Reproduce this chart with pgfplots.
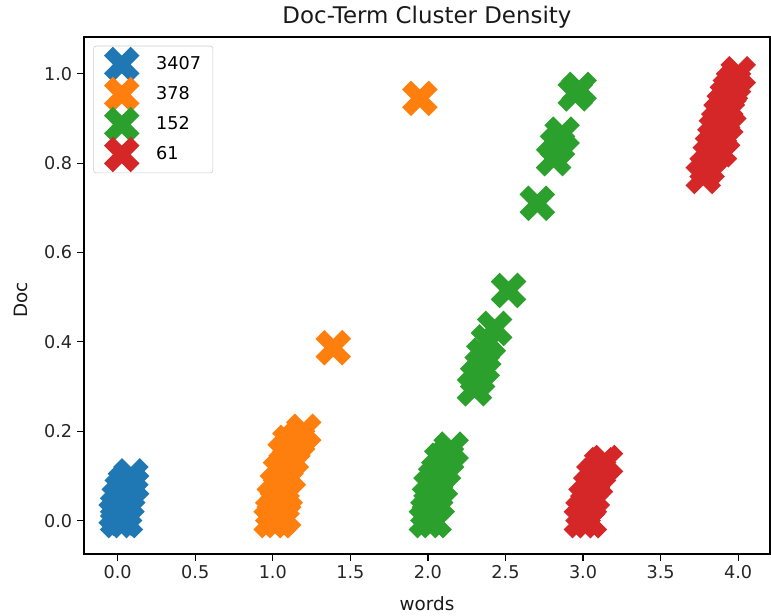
\documentclass[border=0pt]{standalone}
\usepackage{fontspec}
\setmainfont{DejaVu Sans}
\usepackage{pgfplots}
\pgfplotsset{compat=1.18}
\definecolor{tabblue}{HTML}{1F77B4}
\definecolor{taborange}{HTML}{FF7F0E}
\definecolor{tabgreen}{HTML}{2CA02C}
\definecolor{tabred}{HTML}{D62728}
\pgfdeclareplotmark{Xf}{%
  \pgfpathmoveto{\pgfqpoint{-0.5\pgfplotmarksize}{-\pgfplotmarksize}}%
  \pgfpathlineto{\pgfqpoint{0pt}{-0.5\pgfplotmarksize}}%
  \pgfpathlineto{\pgfqpoint{0.5\pgfplotmarksize}{-\pgfplotmarksize}}%
  \pgfpathlineto{\pgfqpoint{\pgfplotmarksize}{-0.5\pgfplotmarksize}}%
  \pgfpathlineto{\pgfqpoint{0.5\pgfplotmarksize}{0pt}}%
  \pgfpathlineto{\pgfqpoint{\pgfplotmarksize}{0.5\pgfplotmarksize}}%
  \pgfpathlineto{\pgfqpoint{0.5\pgfplotmarksize}{\pgfplotmarksize}}%
  \pgfpathlineto{\pgfqpoint{0pt}{0.5\pgfplotmarksize}}%
  \pgfpathlineto{\pgfqpoint{-0.5\pgfplotmarksize}{\pgfplotmarksize}}%
  \pgfpathlineto{\pgfqpoint{-\pgfplotmarksize}{0.5\pgfplotmarksize}}%
  \pgfpathlineto{\pgfqpoint{-0.5\pgfplotmarksize}{0pt}}%
  \pgfpathlineto{\pgfqpoint{-\pgfplotmarksize}{-0.5\pgfplotmarksize}}%
  \pgfpathclose
  \pgfusepathqfill
}
\begin{document}
\begin{tikzpicture}
\useasboundingbox (-60.48pt,-44.64pt) rectangle (494.64pt,398.88pt);
\begin{axis}[
  at={(0,0)}, anchor=south west,
  scale only axis,
  width=493.9pt, height=372.24pt,
  xmin=-0.217, xmax=4.205,
  ymin=-0.0747, ymax=1.0823,
  xtick={0,0.5,1,1.5,2,2.5,3,3.5,4},
  ytick={0,0.2,0.4,0.6,0.8,1.0},
  xticklabel style={/pgf/number format/fixed,/pgf/number format/fixed zerofill,/pgf/number format/precision=1},
  yticklabel style={/pgf/number format/fixed,/pgf/number format/fixed zerofill,/pgf/number format/precision=1},
  /pgf/number format/assume math mode=true,
  tick label style={font=\fontsize{12.7pt}{15pt}\selectfont, text=black!85},
  tick align=outside,
  xtick pos=left, ytick pos=left,
  major tick length=5pt,
  major tick style={line width=0.9pt, black},
  axis line style={line width=0.9pt, black},
  title={Doc-Term Cluster Density},
  title style={at={(0.5,1)}, anchor=base, yshift=3.8pt, font=\fontsize{16.5pt}{19pt}\selectfont, text=black!90},
  xlabel={words},
  ylabel={Doc},
  every axis x label/.style={at={(0.5,0)}, anchor=base, yshift=-40.5pt, font=\fontsize{13.2pt}{16pt}\selectfont, text=black!90},
  every axis y label/.style={at={(0,0.5)}, xshift=-41pt, yshift=-3pt, rotate=90, anchor=base, font=\fontsize{13.2pt}{16pt}\selectfont, text=black!90},
  mark size=12.8pt,
  legend image code/.code={\draw[#1] plot coordinates {(0pt,0pt)};},
  legend style={at={(0,1)}, anchor=north west, xshift=6.7pt, yshift=-6.3pt,
    draw=black!20, rounded corners=2pt, fill=white,
    inner xsep=7.5pt, inner ysep=0.5pt, row sep=-4pt, column sep=11pt,
    nodes={inner sep=1pt},
    font=\fontsize{12.7pt}{15pt}\selectfont},
  legend cell align=left,
]
\addplot[only marks, mark=Xf, color=tabblue] coordinates {
(0.00,0.00) (0.05,0.00) (0.03,0.005) (-0.01,0.015) (0.02,0.015) (0.045,0.02)
(0.00,0.03) (0.03,0.035) (0.06,0.04) (0.01,0.05) (0.04,0.055) (0.065,0.06)
(0.03,0.07) (0.06,0.075) (0.09,0.08) (0.05,0.085) (0.085,0.10)
};
\addplot[only marks, mark=Xf, color=taborange] coordinates {
(0.99,0.00) (1.04,0.00) (1.07,0.01) (1.00,0.02) (1.03,0.03) (1.06,0.035)
(1.01,0.05) (1.045,0.06) (1.08,0.06) (1.03,0.08) (1.065,0.09) (1.10,0.10)
(1.05,0.11) (1.085,0.125) (1.12,0.14) (1.08,0.15) (1.13,0.165) (1.16,0.18)
(1.11,0.175) (1.20,0.20) (1.39,0.387) (1.948,0.945)
};
\addplot[only marks, mark=Xf, color=tabgreen] coordinates {
(1.99,0.00) (2.04,0.00) (2.00,0.02) (2.03,0.03) (2.06,0.04) (2.01,0.05)
(2.05,0.06) (2.02,0.075) (2.08,0.08) (2.05,0.095) (2.07,0.11) (2.10,0.115)
(2.09,0.135) (2.12,0.14) (2.15,0.16)
(2.30,0.295) (2.32,0.32) (2.35,0.345) (2.36,0.37) (2.39,0.40) (2.43,0.43) (2.52,0.515)
(2.705,0.71) (2.81,0.81) (2.835,0.84) (2.865,0.865) (2.95,0.955) (2.975,0.965)
};
\addplot[only marks, mark=Xf, color=tabred] coordinates {
(2.99,0.00) (3.04,0.00) (3.00,0.02) (3.03,0.035) (3.02,0.05) (3.06,0.055)
(3.05,0.075) (3.08,0.085) (3.07,0.10) (3.10,0.11) (3.12,0.125) (3.145,0.13)
(3.775,0.77) (3.80,0.79) (3.82,0.815) (3.835,0.835) (3.85,0.855) (3.86,0.875)
(3.875,0.89) (3.89,0.91) (3.91,0.93) (3.93,0.95) (3.95,0.965) (3.97,0.98)
(4.00,1.00) (3.88,0.83) (3.90,0.86) (3.92,0.89) (3.94,0.92)
};
\legend{3407,378,152,61}
\end{axis}
\end{tikzpicture}
\end{document}
